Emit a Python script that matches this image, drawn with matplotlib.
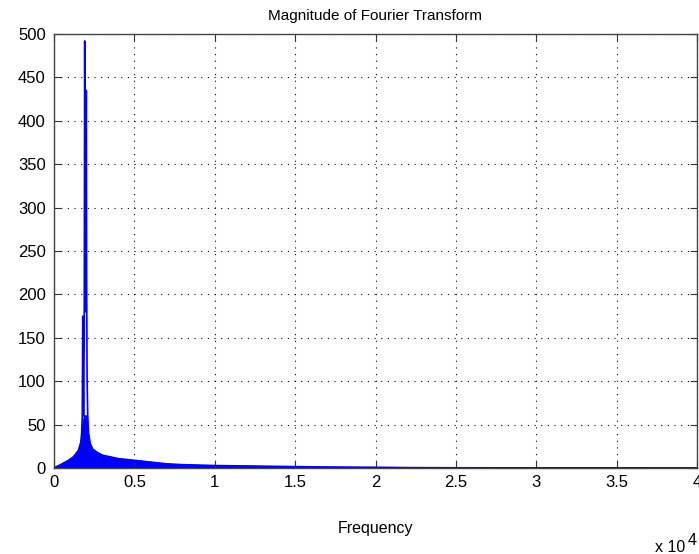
import numpy as np
import matplotlib.pyplot as plt

# broadband part of the spectrum: frequency (Hz) and upper envelope of |X(f)|
band_freq = [0, 300, 600, 900, 1200, 1500, 1700, 1800, 1900, 2000, 2100, 2200,
             2400, 2700, 3000, 3500, 4000, 5000, 6000, 7000, 8000, 9000, 10000,
             12000, 14000, 16000, 18000, 20000, 22000, 25000, 30000, 40000]
band_mag = [0.5, 3, 6, 9, 13, 20, 32, 50, 60, 60, 42, 30, 22, 18, 15, 13, 11,
            9, 7, 5, 4, 3.5, 3, 2.5, 2, 1.5, 1.2, 1, 0.6, 0.4, 0.3, 0.2]

# narrow spikes around the carrier
spike_freq = [1650, 1720, 1760, 1790, 1810, 1840, 1880, 1910, 1930, 1950, 1980,
              2010, 2030, 2060, 2100, 2150, 2250]
spike_mag = [25, 40, 60, 175, 120, 60, 150, 492, 300, 180, 300, 435, 220, 100,
             60, 40, 28]

xticks = [0, 5000, 10000, 15000, 20000, 25000, 30000, 35000, 40000]
xtick_labels = ["0", "0.5", "1", "1.5", "2", "2.5", "3", "3.5", "4"]
yticks = list(range(0, 501, 50))

plt.rcParams["font.family"] = ["Liberation Sans", "DejaVu Sans"]
plt.rcParams["font.size"] = 11

fig = plt.figure(figsize=(6.99, 5.54), dpi=100)
ax = fig.add_axes([54 / 699, 86 / 554, 643 / 699, 434 / 554])

ax.fill_between(band_freq, 0, band_mag, color="#0000ff", lw=0.8)
ax.plot(band_freq, band_mag, color="#0000ff", lw=1.0)
ax.plot(spike_freq, spike_mag, color="#0000ff", lw=1.2)
ax.plot([0, 40000], [0.3, 0.3], color="#0000ff", lw=1.2)

ax.set_xlim(0, 40000)
ax.set_ylim(0, 500)
ax.set_xticks(xticks)
ax.set_xticklabels(xtick_labels)
ax.set_yticks(yticks)

ax.grid(True, color="black", linestyle=(0, (1, 5)), linewidth=0.8)
ax.tick_params(direction="in", length=5, width=0.8, colors="#333333",
               labelcolor="black", labelsize=12, pad=6, top=True, right=True)
ax.tick_params(axis="x", pad=5)
for s in ax.spines.values():
    s.set_color("#444444")
    s.set_linewidth(1.0)

ax.set_title("Magnitude of Fourier Transform", fontsize=11, pad=10)
ax.set_xlabel("Frequency", fontsize=11.5, labelpad=22)
fig.text(655 / 699, 1 - 552 / 554, "x 10", fontsize=11.5, va="baseline")
fig.text(688 / 699, 1 - 545 / 554, "4", fontsize=11.5, va="baseline")

fig.savefig("out.png", dpi=100)
